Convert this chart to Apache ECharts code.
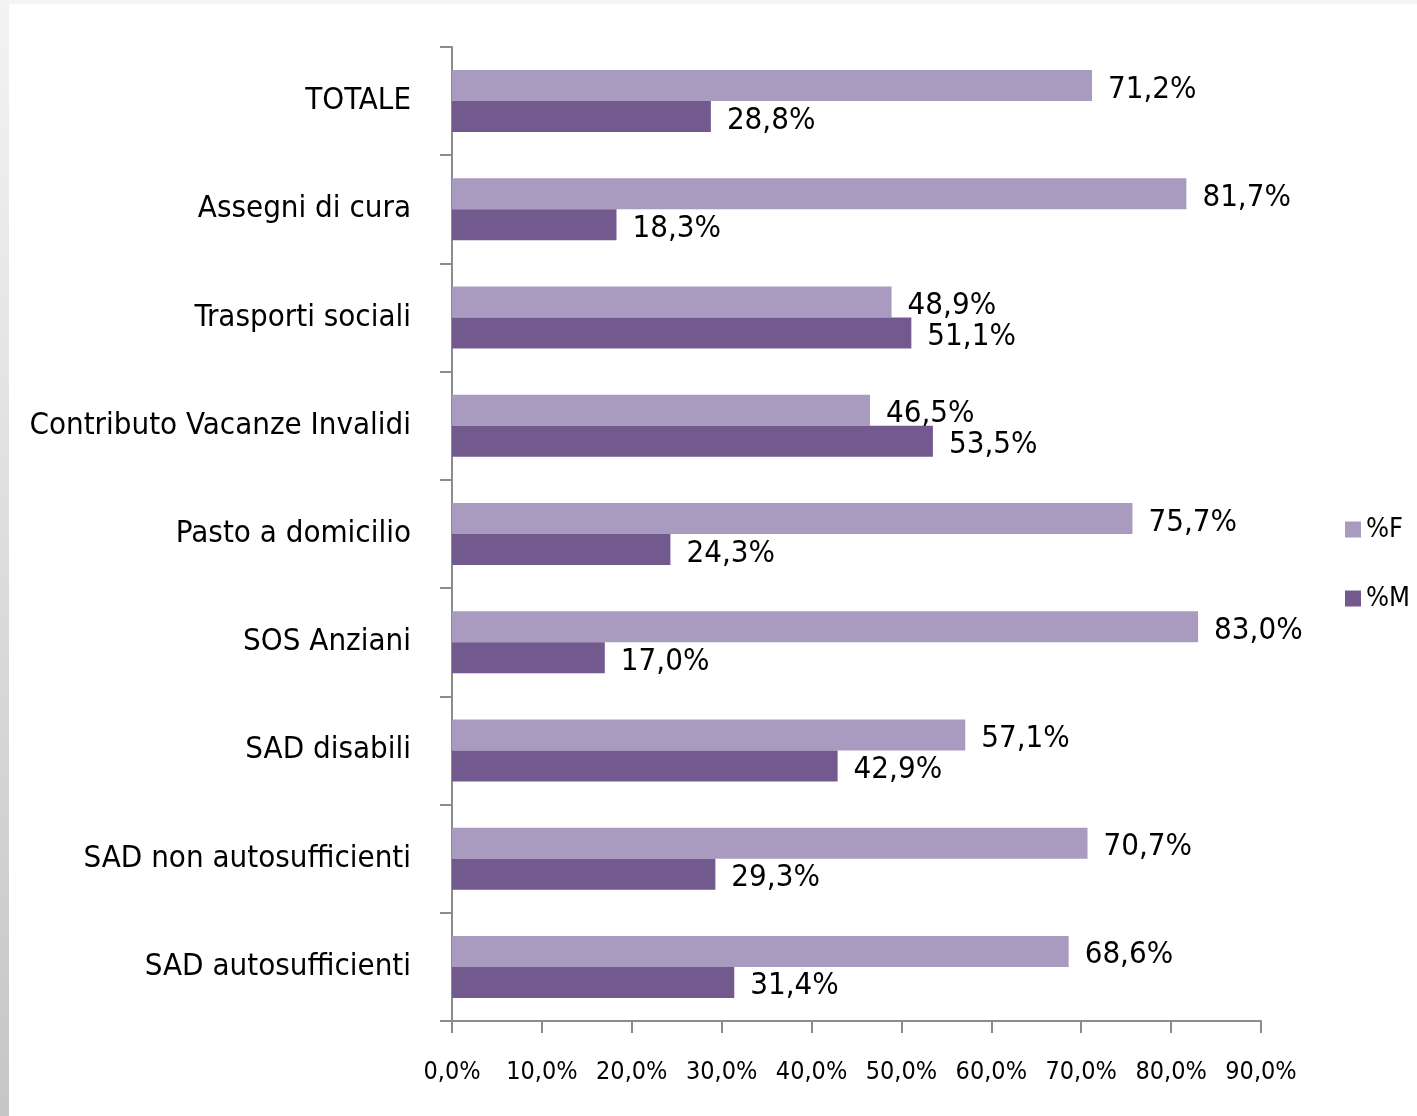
<!DOCTYPE html>
<html>
<head>
<meta charset="utf-8">
<script src="https://cdn.jsdelivr.net/npm/echarts@6/dist/echarts.min.js"></script>
<style>
  html, body { margin: 0; padding: 0; background: #fff; }
  #chart_container { width: 1417px; height: 1116px; }
</style>
</head>
<body>
<div id="chart_container"></div>
<script>
// categories bottom -> top
const categories = [
    "SAD autosufficienti",
    "SAD non autosufficienti",
    "SAD disabili",
    "SOS Anziani",
    "Pasto a domicilio",
    "Contributo Vacanze Invalidi",
    "Trasporti sociali",
    "Assegni di cura",
    "TOTALE"
];
const pct_f = [68.6, 70.7, 57.1, 83.0, 75.7, 46.5, 48.9, 81.7, 71.2];
const pct_m = [31.4, 29.3, 42.9, 17.0, 24.3, 53.5, 51.1, 18.3, 28.8];
const x_ticks = [0, 10, 20, 30, 40, 50, 60, 70, 80, 90];

const font = "'DejaVu Sans Condensed', 'Liberation Sans Narrow', sans-serif";

function fmt_pct(v) {
    return Number(v).toFixed(1).replace('.', ',') + '%';
}

document.addEventListener("DOMContentLoaded", function () {
    let chart = echarts.init(document.getElementById('chart_container'));

    let label_style = {
        show: true,
        position: 'right',
        distance: 16,
        offset: [0, 4],
        fontFamily: font,
        fontSize: 31,
        color: '#000',
        formatter: p => fmt_pct(p.value)
    };

    let option = {
        backgroundColor: '#ffffff',
        animation: false,
        textStyle: { fontFamily: font },
        graphic: [
            // grey frame strips at the edges of the slide
            {
                type: 'rect', left: 0, top: 0, z: -10,
                shape: { width: 9, height: 1116 },
                style: {
                    fill: new echarts.graphic.LinearGradient(0, 0, 0, 1, [
                        { offset: 0, color: '#f3f3f3' },
                        { offset: 1, color: '#c6c6c6' }
                    ])
                }
            },
            {
                type: 'rect', left: 0, top: 0, z: -10,
                shape: { width: 1417, height: 4 },
                style: { fill: '#f4f4f4' }
            }
        ],
        grid: { left: 452, right: 156, top: 47, bottom: 95, outerBoundsMode: 'none', containLabel: false },
        legend: {
            orient: 'vertical',
            left: 1340,
            top: 511,
            itemWidth: 16,
            itemHeight: 16,
            itemGap: 42,
            icon: 'rect',
            textStyle: { fontFamily: font, fontSize: 27, color: '#000' },
            data: ['%F', '%M']
        },
        xAxis: {
            type: 'value',
            min: 0,
            max: 90,
            interval: 10,
            axisLine: { show: true, lineStyle: { color: '#8c8c8c', width: 2 } },
            axisTick: { show: true, length: 12, lineStyle: { color: '#8c8c8c', width: 2 } },
            splitLine: { show: false },
            axisLabel: {
                margin: 39,
                fontFamily: font,
                fontSize: 25,
                color: '#000',
                showMaxLabel: true,
                hideOverlap: false,
                formatter: v => x_ticks.includes(v) ? fmt_pct(v) : ''
            }
        },
        yAxis: {
            type: 'category',
            data: categories,
            axisLine: { show: true, lineStyle: { color: '#8c8c8c', width: 2 } },
            axisTick: { show: true, length: 12, lineStyle: { color: '#8c8c8c', width: 2 } },
            axisLabel: {
                margin: 41,
                fontFamily: font,
                fontSize: 31,
                color: '#000'
            }
        },
        series: [
            {
                name: '%F',
                type: 'bar',
                data: pct_f,
                barWidth: 31,
                barGap: '0%',
                itemStyle: { color: '#a99bc0' },
                label: label_style
            },
            {
                name: '%M',
                type: 'bar',
                data: pct_m,
                barWidth: 31,
                barGap: '0%',
                itemStyle: { color: '#725a8e' },
                label: label_style
            }
        ]
    };

    chart.setOption(option);
});
</script>
</body>
</html>
